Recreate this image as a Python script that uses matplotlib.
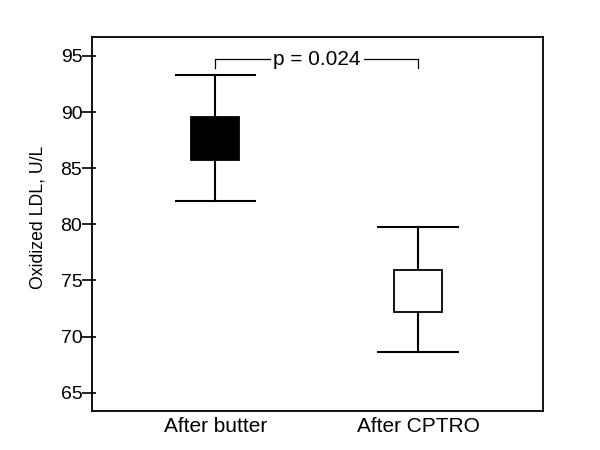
import matplotlib
matplotlib.use("Agg")
import matplotlib.pyplot as plt
from matplotlib.patches import Rectangle

plt.rcParams['font.family'] = ['Liberation Sans', 'DejaVu Sans']

categories = ["After butter", "After CPTRO"]
box_low = [85.7, 72.2]
box_high = [89.6, 75.9]
whisker_low = [82.1, 68.6]
whisker_high = [93.3, 79.8]
fills = ["black", "white"]
p_text = "p = 0.024"
bracket_y = 94.7
bracket_drop = 93.9
yticks = [65, 70, 75, 80, 85, 90, 95]

fig = plt.figure(figsize=(6, 4.5), dpi=100)
ax = fig.add_axes([92/600, 1-411/450, (543-92)/600, (411-37)/450])

xs = [1, 2]
box_w = 0.24
cap_w = 0.40
for x, bl, bh, wl, wh, fc in zip(xs, box_low, box_high, whisker_low, whisker_high, fills):
    ax.plot([x, x], [wl, bl], color='black', lw=1.5, zorder=2)
    ax.plot([x, x], [bh, wh], color='black', lw=1.5, zorder=2)
    ax.plot([x - cap_w/2, x + cap_w/2], [wl, wl], color='black', lw=1.5, solid_capstyle='butt')
    ax.plot([x - cap_w/2, x + cap_w/2], [wh, wh], color='black', lw=1.5, solid_capstyle='butt')
    ax.add_patch(Rectangle((x - box_w/2, bl), box_w, bh - bl, facecolor=fc,
                           edgecolor='black', lw=1.3, zorder=3))

# significance bracket
ax.plot([xs[0], xs[0], 1.268], [bracket_drop, bracket_y, bracket_y], color='black', lw=0.9)
ax.plot([1.732, xs[1], xs[1]], [bracket_y, bracket_y, bracket_drop], color='black', lw=0.9)
ax.text(1.5, bracket_y, p_text, ha='center', va='center', fontsize=15)

ax.set_xlim(0.393, 2.616)
ax.set_ylim(63.37, 96.69)
ax.set_yticks(yticks)
ax.set_xticks(xs)
ax.set_xticklabels(categories)
ax.tick_params(axis='y', direction='out', length=7, width=1.2, labelsize=14, pad=0)
ax.tick_params(axis='x', length=0, labelsize=15, pad=4)
# inward part of the y ticks
sec = ax.secondary_yaxis('left')
sec.set_yticks(yticks)
sec.tick_params(direction='in', length=3, width=1.2, labelleft=False)
sec.spines['left'].set_visible(False)

ax.set_ylabel("Oxidized LDL, U/L", fontsize=12.7)
ax.yaxis.set_label_coords(-0.1, 0.517)
for s in ax.spines.values():
    s.set_linewidth(1.3)

fig.savefig("out.png", dpi=100)
